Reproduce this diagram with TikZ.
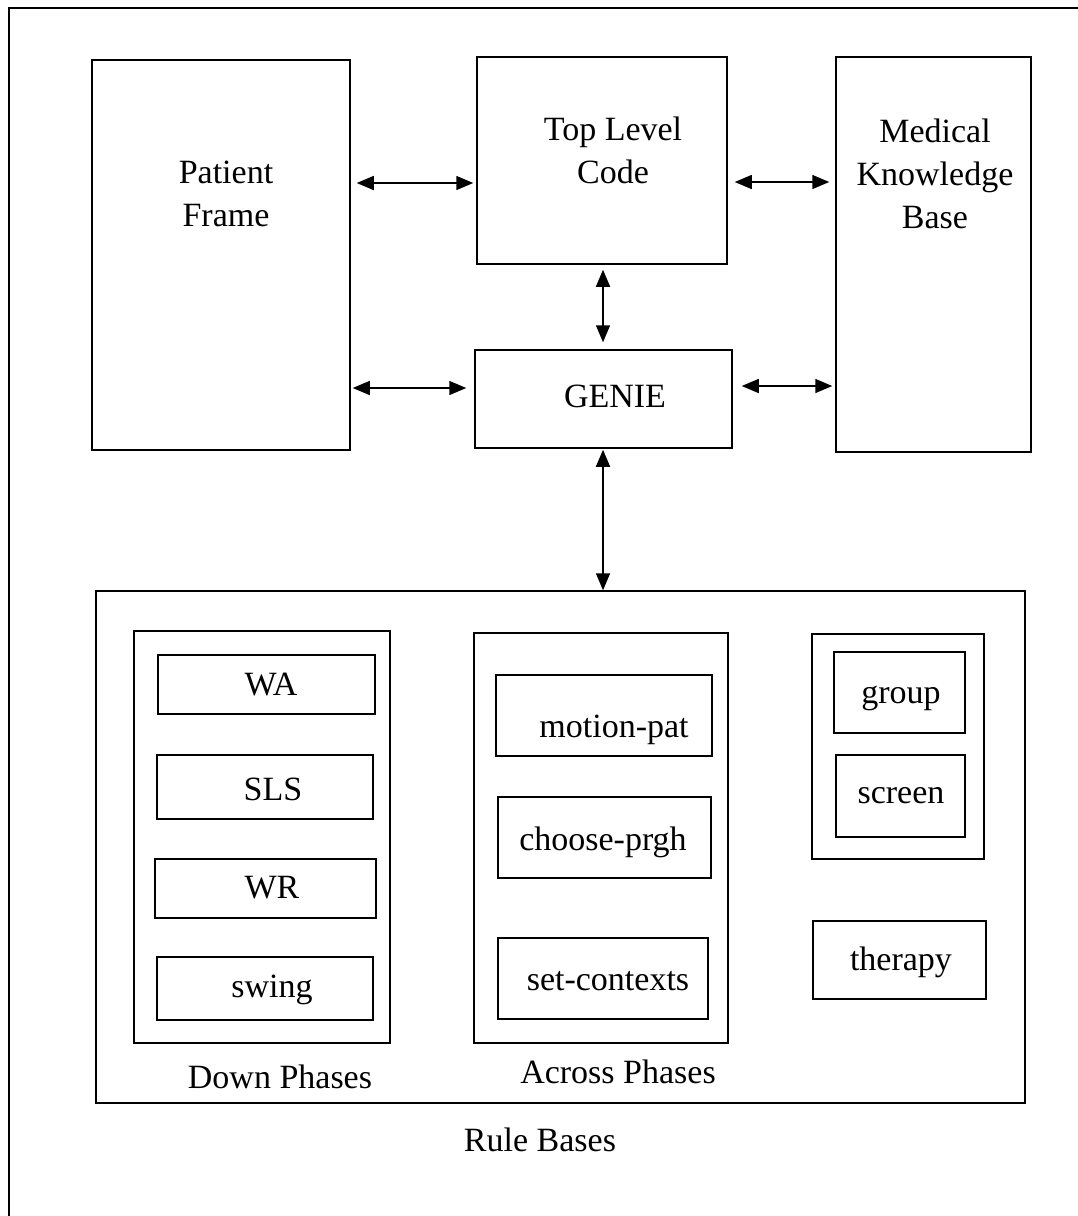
\documentclass[tikz,border=0pt]{standalone}
\usepackage{fontspec}
\setmainfont{Liberation Serif}
\usetikzlibrary{arrows.meta}
\begin{document}
\begin{tikzpicture}[x=1pt,y=-1pt,
  box/.style={draw, line width=1.5pt, rectangle, inner sep=0pt},
  lbl/.style={anchor=base, inner sep=0pt, font=\fontsize{34}{43}\selectfont, align=center},
  arr/.style={line width=1.5pt, {Triangle[length=17pt,width=14pt]}-{Triangle[length=17pt,width=14pt]}}]
\useasboundingbox (0,0) rectangle (1078,1216);
\coordinate (fa) at (9,1216);
\coordinate (fb) at (9,8);
\coordinate (fc) at (1078,8);
\draw[line width=1.5pt] (fa) -- (fb) -- (fc);
% top boxes
\node[box, minimum width=258pt, minimum height=390pt] (pf) at (221,255) {};
\node[box, minimum width=250pt, minimum height=207pt] (tlc) at (602,160.5) {};
\node[box, minimum width=195pt, minimum height=395pt] (mkb) at (933.5,254.5) {};
\node[box, minimum width=257pt, minimum height=98pt] (genie) at (603.5,399) {};
% rule bases
\node[box, minimum width=929pt, minimum height=512pt] (rb) at (560.5,847) {};
\node[box, minimum width=256pt, minimum height=412pt] (dp) at (262,837) {};
\node[box, minimum width=217pt, minimum height=59pt] (wa) at (266.5,684.5) {};
\node[box, minimum width=216pt, minimum height=64pt] (sls) at (265,787) {};
\node[box, minimum width=221pt, minimum height=59pt] (wr) at (265.5,888.5) {};
\node[box, minimum width=216pt, minimum height=63pt] (swing) at (265,988.5) {};
\node[box, minimum width=254pt, minimum height=410pt] (ap) at (601,838) {};
\node[box, minimum width=216pt, minimum height=81pt] (mp) at (604,715.5) {};
\node[box, minimum width=213pt, minimum height=81pt] (cp) at (604.5,837.5) {};
\node[box, minimum width=210pt, minimum height=81pt] (sc) at (603,978.5) {};
\node[box, minimum width=172pt, minimum height=225pt] (gs) at (898,746.5) {};
\node[box, minimum width=131pt, minimum height=81pt] (grp) at (899.5,692.5) {};
\node[box, minimum width=129pt, minimum height=82pt] (scr) at (900.5,796) {};
\node[box, minimum width=173pt, minimum height=78pt] (th) at (899.5,960) {};
% labels
\node[lbl] (tpf) at (226,226) {Patient\\Frame};
\node[lbl] (ttlc) at (613,183) {Top Level\\Code};
\node[lbl] (tmkb) at (935,228) {Medical\\Knowledge\\Base};
\node[lbl] (tgenie) at (615,407) {GENIE};
\node[lbl] (twa) at (271,695) {WA};
\node[lbl] (tsls) at (273,800) {SLS};
\node[lbl] (twr) at (272,898) {WR};
\node[lbl] (tswing) at (272,997) {swing};
\node[lbl] (tdp) at (280,1088) {Down Phases};
\node[lbl] (tmp) at (614,737) {motion-pat};
\node[lbl] (tcp) at (603,850) {choose-prgh};
\node[lbl] (tsc) at (608,990) {set-contexts};
\node[lbl] (tap) at (618,1083) {Across Phases};
\node[lbl] (tgrp) at (901,703) {group};
\node[lbl] (tscr) at (901,803) {screen};
\node[lbl] (tth) at (901,970) {therapy};
\node[lbl] (trb) at (540,1151) {Rule Bases};
% connectors
\coordinate (ya) at (0,183);
\coordinate (yb) at (0,182);
\coordinate (yc) at (0,388);
\coordinate (yd) at (0,386);
\coordinate (xv) at (603,0);
\draw[arr, shorten <=6pt, shorten >=3pt] (pf.east |- ya) -- (tlc.west |- ya);
\draw[arr, shorten <=7pt, shorten >=6pt] (tlc.east |- yb) -- (mkb.west |- yb);
\draw[arr, shorten <=5pt, shorten >=7pt] (tlc.south -| xv) -- (genie.north -| xv);
\draw[arr, shorten <=2pt, shorten >=8pt] (pf.east |- yc) -- (genie.west |- yc);
\draw[arr, shorten <=9pt, shorten >=3pt] (genie.east |- yd) -- (mkb.west |- yd);
\draw[arr, shorten <=1pt, shorten >=0pt] (genie.south -| xv) -- (rb.north -| xv);
\end{tikzpicture}
\end{document}
